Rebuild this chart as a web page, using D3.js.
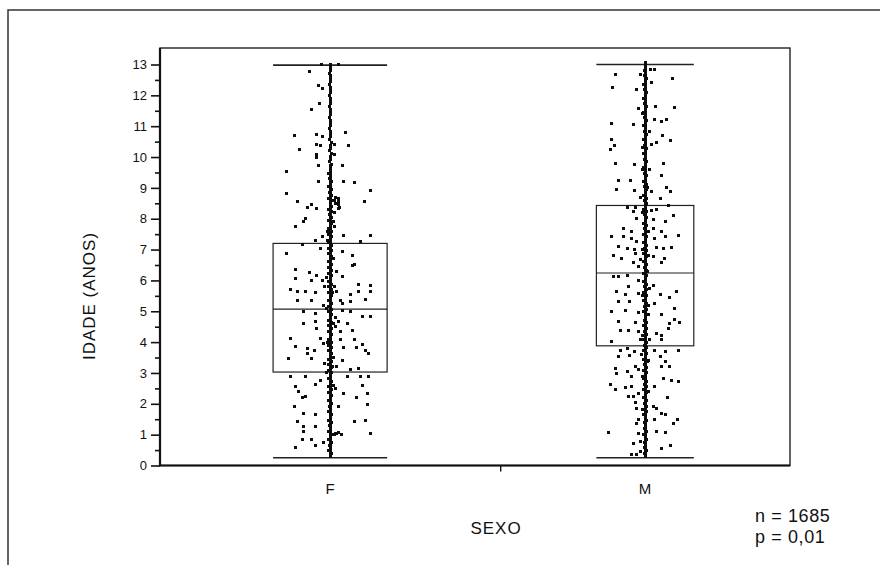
<!DOCTYPE html>
<html lang="pt">
<head>
<meta charset="UTF-8">
<script src="https://cdn.jsdelivr.net/npm/d3@7"></script>
<title>Idade por sexo</title>
<style>
  body { margin: 0; background: #fff; }
  svg { display: block; font-family: "Liberation Sans", Arial, sans-serif; }
</style>
</head>
<body>
<svg width="880" height="565"></svg>
<script>
// resumo dos grupos
const categories = ["F", "M"];
const groupN = [974, 711];
const whiskerLow = [0.25, 0.25];
const q1 = [3.03, 3.88];
const median = [5.07, 6.24];
const q3 = [7.2, 8.43];
const whiskerHigh = [12.98, 13.0];

const yTicks = [0, 1, 2, 3, 4, 5, 6, 7, 8, 9, 10, 11, 12, 13];
const yMinorTicks = [0.5, 1.5, 2.5, 3.5, 4.5, 5.5, 6.5, 7.5, 8.5, 9.5, 10.5, 11.5, 12.5];

// pontos: [idade, deslocamento horizontal (fracao da meia largura da caixa)]
const fPoints = [
  [13.0,-.15],[13.0,.15],[12.77,-.37],[12.33,-.2],[12.23,-.14],[11.74,-.19],[11.55,-.32],[10.69,-.62],[10.73,-.24],
  [10.66,-.14],[10.8,.27],[10.41,-.24],[10.37,-.17],[10.41,.08],[10.39,.32],[10.23,-.53],[10.09,-.24],[9.98,-.24],
  [10.09,.08],[9.74,-.2],[9.71,.21],[9.52,-.77],[9.22,-.2],[9.22,.24],[9.18,.42],[8.93,.7],[8.82,-.77],[8.55,-.57],
  [8.66,.15],[8.55,.61],[8.36,-.4],[8.34,-.24],[8.34,.14],[8.45,-.33],[8.01,-.44],[7.74,-.61],[7.9,-.46],[7.74,.08],
  [7.47,.24],[7.45,.7],[7.42,-.14],[7.31,-.26],[7.25,.53],[7.15,-.49],[6.88,-.77],[7.04,-.17],[6.82,.39],[6.93,.21],
  [6.52,.42],[6.5,.39],[6.14,.21],[6.34,-.61],[6.25,-.37],[6.17,-.23],[6.07,-.61],[6.01,-.32],[5.99,-.14],[5.88,.5],
  [5.85,.7],[5.69,-.7],[5.63,-.58],[5.63,-.44],[5.6,-.26],[5.63,.12],[5.53,.35],[5.63,.5],[5.63,.7],[5.36,-.58],
  [5.36,-.32],[5.36,.18],[5.31,.35],[5.39,.62],[5.26,.21],[4.99,-.46],[4.93,-.26],[5.04,.21],[4.99,.36],[4.82,.56],
  [4.84,.71],[4.66,-.26],[4.66,.15],[4.61,.3],[4.61,-.46],[4.45,-.23],[4.34,.18],[4.39,.39],[4.12,-.7],[4.12,-.17],
  [4.07,.18],[4.07,.42],[3.85,-.61],[3.8,-.4],[3.74,-.28],[3.83,.24],[3.83,.47],[3.91,.56],[3.74,.62],[3.64,.68],
  [3.64,-.4],[3.47,-.73],[3.47,-.32],[3.42,.21],[3.22,.12],[3.12,.36],[3.15,.5],[2.9,-.7],[2.88,-.44],[2.88,.3],
  [2.9,.53],[2.9,.68],[2.75,-.17],[2.55,-.61],[2.61,-.26],[2.58,.56],[2.39,-.55],[2.23,-.44],[2.34,.24],[2.34,.65],
  [2.21,.47],[2.2,-.49],[1.91,-.63],[1.91,.15],[1.99,.65],[1.69,-.46],[1.64,-.26],[1.42,-.58],[1.42,.42],[1.45,.62],
  [1.26,-.46],[1.26,-.26],[1.1,-.46],[1.04,.12],[1.04,.71],[0.83,-.49],[0.83,-.32],[0.66,-.26],[0.59,-.61],[0.75,-.11],
  [5.8,-.1],[5.2,-.12],[4.5,.1],[3.95,-.12],[3.3,-.1],[6.3,.12],[4.8,.1],[2.5,.1],[1.02,.2],[1.08,.15],
  [8.45,.15],[8.35,.17],[8.55,.15]
];

const fCore = [
  [0.30,0],[0.39,.02],[0.48,-.02],[0.57,.01],[0.66,-.01],[0.75,.02],[0.84,-.02],[0.93,0],[1.02,.03],[1.11,-.02],
  [1.2,.01],[1.29,-.01],[1.38,.02],[1.47,-.02],[1.56,0],[1.65,.02],[1.74,-.02],[1.83,.01],[1.92,-.01],[2.01,.02],
  [2.1,-.03],[2.19,0],[2.28,.03],[2.37,-.02],[2.46,.02],[2.55,-.03],[2.64,.01],[2.73,.03],[2.82,-.03],[2.91,0],
  [3.0,.03],[3.09,-.03],[3.18,.02],[3.27,-.02],[3.36,.03],[3.45,-.03],[3.54,0],[3.63,.03],[3.72,-.03],[3.81,.02],
  [3.9,-.02],[3.99,.03],[4.08,-.03],[4.17,0],[4.26,.03],[4.35,-.03],[4.44,.02],[4.53,-.02],[4.62,.03],[4.71,-.03],
  [4.8,0],[4.89,.03],[4.98,-.03],[5.07,.02],[5.16,-.02],[5.25,.03],[5.34,-.03],[5.43,0],[5.52,.03],[5.61,-.03],
  [5.7,.02],[5.79,-.02],[5.88,.03],[5.97,-.03],[6.06,0],[6.15,.03],[6.24,-.03],[6.33,.02],[6.42,-.02],[6.51,.03],
  [6.6,-.03],[6.69,0],[6.78,.02],[6.87,-.02],[6.96,.03],[7.05,-.02],[7.14,.02],[7.23,-.03],[7.32,0],[7.41,.03],
  [7.5,-.02],[7.59,.02],[7.68,-.03],[7.77,.01],[7.86,.03],[7.95,-.02],[8.04,.02],[8.13,-.01],[8.22,.03],[8.31,-.02],
  [8.4,.03],[8.49,0],[8.58,.04],[8.67,-.02],[8.76,.02],[8.85,-.01],[8.94,.02],[9.03,-.02],[9.12,0],[9.21,.02],
  [9.3,-.01],[9.39,.01],[9.48,-.02],[9.57,.01],[9.66,0],[9.75,.02],[9.84,-.01],[9.93,.01],[10.02,0],[10.11,.02],
  [10.2,-.01],[10.29,.01],[10.38,0],[10.47,.02],[10.56,-.01],[10.65,.01],[10.74,0],[10.83,.01],[10.92,-.01],[11.01,.01],
  [11.1,0],[11.19,.01],[11.28,-.01],[11.37,.01],[11.46,0],[11.55,.01],[11.64,-.01],[11.73,.01],[11.82,0],[11.91,.01],
  [12.0,-.01],[12.09,.01],[12.18,0],[12.27,.01],[12.36,-.01],[12.45,.01],[12.54,0],[12.63,.01],[12.72,-.01],[12.81,.01],
  [12.9,0],[12.99,.01],
  [2.6,.06],[3.0,-.06],[3.5,.06],[4.0,-.05],[4.6,.06],[5.1,-.06],[5.6,.05],[6.1,-.06],[6.7,.06],[7.3,-.05],
  [7.9,.06],[8.6,.07],[8.7,.1],[8.2,.08],[5.8,.07],[3.2,.05],[1.0,.08],[1.05,.1],[8.5,.09],[7.6,-.05]
];

// idades dos pontos sobrepostos exatamente no centro da coluna
const fCenter = [
  0.35,0.44,0.53,0.62,0.71,0.8,0.89,0.98,1.07,1.16,1.25,1.34,1.43,1.52,1.61,1.7,1.79,1.88,1.97,2.06,
  2.15,2.24,2.33,2.42,2.51,2.6,2.69,2.78,2.87,2.96,3.05,3.14,3.23,3.32,3.41,3.5,3.59,3.68,3.77,3.86,
  3.95,4.04,4.13,4.22,4.31,4.4,4.49,4.58,4.67,4.76,4.85,4.94,5.03,5.12,5.21,5.3,5.39,5.48,5.57,5.66,
  5.75,5.84,5.93,6.02,6.11,6.2,6.29,6.38,6.47,6.56,6.65,6.74,6.83,6.92,7.01,7.1,7.19,7.28,7.37,7.46,
  7.55,7.64,7.73,7.82,7.91,8.0,8.09,8.18,8.27,8.36,8.45,8.54,8.63,8.72,8.81,8.9,8.99,9.08,9.17,9.26,
  9.35,9.44,9.53,9.62,9.71
];

const mPoints = [
  [12.85,.12],[12.85,.19],[12.66,-.6],[12.53,.56],[12.68,-.1],[12.25,-.67],[12.2,-.17],[12.42,.14],[11.63,.22],[11.6,.6],
  [11.58,-.14],[11.09,-.69],[11.04,-.24],[11.23,.2],[11.14,.33],[11.23,.44],[10.82,.1],[10.69,.36],[10.58,-.69],[10.55,.53],
  [10.37,-.63],[10.23,-.71],[10.48,.24],[10.4,.14],[9.8,-.61],[9.76,-.22],[9.8,.37],[9.58,.1],[9.25,-.54],[9.25,-.29],
  [9.39,.34],[8.96,-.58],[8.9,-.22],[8.88,.14],[9.0,.44],[8.87,.53],[8.66,.31],[8.68,-.1],[8.36,-.37],[8.37,-.2],
  [8.28,.14],[8.3,.24],[8.44,.48],[8.23,-.24],[8.01,-.17],[7.96,.17],[7.9,.41],[8.12,.58],[7.69,-.44],[7.58,-.27],
  [7.69,.17],[7.6,.33],[7.42,-.68],[7.42,-.44],[7.42,.41],[7.47,.68],[7.36,-.27],[7.25,-.17],[7.36,.2],[7.09,-.54],
  [7.04,-.37],[7.0,-.22],[7.06,.24],[7.03,.37],[7.06,.54],[6.82,-.65],[6.88,-.2],[6.78,.17],[6.72,.39],[6.72,-.48],
  [6.68,-.1],[6.57,-.24],[6.57,.34],[6.44,-.14],[6.12,-.65],[6.12,-.54],[6.15,-.37],[5.99,-.14],[5.85,.17],[5.74,.1],
  [5.8,-.34],[5.63,-.58],[5.53,-.41],[5.58,-.14],[5.53,.31],[5.45,.51],[5.63,.65],[5.31,-.54],[5.31,-.31],[5.26,.2],
  [4.99,-.68],[5.04,-.41],[4.97,-.14],[5.1,.61],[4.88,.34],[4.66,-.54],[4.65,-.2],[4.61,.51],[4.65,.71],[4.74,.61],
  [4.39,-.34],[4.39,-.51],[4.34,-.14],[4.45,.48],[4.28,.24],[4.23,.34],[4.01,-.68],[4.07,-.1],[4.07,.1],[4.07,.34],
  [3.74,-.51],[3.8,-.37],[3.69,-.22],[3.74,.2],[3.69,.41],[3.72,.68],[3.53,-.54],[3.58,-.31],[3.53,.31],[3.36,.41],
  [3.22,.51],[3.22,.34],[3.15,-.61],[3.2,-.2],[2.99,-.58],[3.04,-.37],[3.1,-.14],[2.88,-.27],[2.83,.37],[2.77,.54],
  [2.72,.68],[2.61,-.71],[2.45,-.61],[2.53,-.41],[2.55,-.27],[2.55,.2],[2.25,-.34],[2.25,-.24],[2.35,-.14],[2.21,.46],
  [1.91,.17],[1.86,.24],[2.04,-.2],[1.84,-.17],[1.67,.33],[1.64,.41],[1.5,-.14],[1.48,.2],[1.5,.67],[1.37,.58],
  [1.06,-.75],[1.37,-.17],[1.1,.24],[1.06,.41],[1.04,-.14],[0.72,-.24],[0.77,-.1],[0.56,.34],[0.64,.53],[0.37,-.27],
  [0.37,-.17],[0.45,-.1]
];

const mCore = [
  [0.3,0],[0.39,-.02],[0.48,.02],[0.57,-.01],[0.66,.01],[0.75,-.02],[0.84,.02],[0.93,0],[1.02,-.03],[1.11,.02],
  [1.2,-.01],[1.29,.01],[1.38,-.02],[1.47,.02],[1.56,0],[1.65,-.03],[1.74,.02],[1.83,-.01],[1.92,.03],[2.01,-.02],
  [2.1,.02],[2.19,-.03],[2.28,0],[2.37,.03],[2.46,-.03],[2.55,.02],[2.64,-.02],[2.73,.03],[2.82,-.03],[2.91,0],
  [3.0,.03],[3.09,-.03],[3.18,.02],[3.27,-.02],[3.36,.04],[3.45,-.03],[3.54,0],[3.63,.03],[3.72,-.03],[3.81,.02],
  [3.9,-.02],[3.99,.03],[4.08,-.03],[4.17,0],[4.26,.03],[4.35,-.02],[4.44,.02],[4.53,-.03],[4.62,.03],[4.71,-.02],
  [4.8,0],[4.89,.03],[4.98,-.03],[5.07,.02],[5.16,-.02],[5.25,.03],[5.34,-.03],[5.43,0],[5.52,.03],[5.61,-.03],
  [5.7,.02],[5.79,-.02],[5.88,.03],[5.97,-.03],[6.06,0],[6.15,.03],[6.24,-.03],[6.33,.02],[6.42,-.02],[6.51,.03],
  [6.6,-.03],[6.69,0],[6.78,.03],[6.87,-.03],[6.96,.02],[7.05,-.02],[7.14,.03],[7.23,-.03],[7.32,0],[7.41,.03],
  [7.5,-.03],[7.59,.02],[7.68,-.02],[7.77,.03],[7.86,-.03],[7.95,0],[8.04,.02],[8.13,-.02],[8.22,.03],[8.31,-.03],
  [8.4,0],[8.49,.02],[8.58,-.02],[8.67,.03],[8.76,-.03],[8.85,0],[8.94,.02],[9.03,-.02],[9.12,.03],[9.21,-.03],
  [9.3,0],[9.39,.02],[9.48,-.02],[9.57,.01],[9.66,-.03],[9.75,0],[9.84,.02],[9.93,-.02],[10.02,.01],[10.11,-.03],
  [10.2,0],[10.29,.02],[10.38,-.02],[10.47,.01],[10.56,-.03],[10.65,0],[10.74,.02],[10.83,-.02],[10.92,.01],[11.01,-.03],
  [11.1,0],[11.19,.02],[11.28,-.02],[11.37,.01],[11.46,-.03],[11.55,0],[11.64,.02],[11.73,-.02],[11.82,.01],[11.91,-.03],
  [12.0,0],[12.09,.02],[12.18,-.02],[12.27,.01],[12.36,-.03],[12.45,0],[12.54,.02],[12.63,-.02],[12.72,.01],[12.81,-.01],
  [12.9,0],[12.99,.01],[13.06,0],
  [2.4,.06],[2.9,-.06],[3.4,.06],[4.2,-.06],[4.9,.06],[5.5,-.06],[6.3,.05],[7.0,-.06],[7.6,.06],[8.2,-.06],
  [9.0,.05],[9.6,-.06],[3.6,-.07],[5.2,.07],[10.3,-.06],[11.4,-.05],[6.8,.06],[1.8,-.05]
];

const mCenter = [
  0.35,0.44,0.53,0.62,0.71,0.8,0.89,0.98,1.07,1.16,1.25,1.34,1.43,1.52,1.61,1.7,1.79,1.88,1.97,2.06,
  2.15,2.24,2.33,2.42,2.51,2.6,2.69,2.78,2.87,2.96,3.05,3.14,3.23,3.32,3.41,3.5,3.59,3.68,3.77,3.86,
  3.95,4.04,4.13,4.22,4.31,4.4,4.49,4.58,4.67,4.76,4.85,4.94,5.03,5.12,5.21,5.3,5.39,5.48,5.57,5.66,
  5.75,5.84,5.93,6.02,6.11,6.2,6.29,6.38,6.47,6.56,6.65,6.74,6.83,6.92,7.01,7.1,7.19,7.28,7.37,7.46,
  7.55,7.64,7.73,7.82,7.91,8.0,8.09,8.18,8.27,8.36,8.45,8.54,8.63,8.72,8.81,8.9,8.99,9.08,9.17,9.26,
  9.35,9.44,9.53,9.62,9.71,9.8,9.89,9.98,10.07,10.16,10.25,10.34,10.43,10.52,10.61,10.7,10.79,10.88,10.97,11.06,
  11.15,11.24,11.33,11.42,11.51,11.6,11.69,11.78,11.87,11.96,12.05,12.14,12.23,12.32,12.41,12.5,12.59,12.68,12.77,12.86,
  12.95
];

const svg = d3.select("svg");

// moldura externa (cortada na digitalizacao: so aparecem topo e esquerda)
svg.append("rect")
    .attr("x", 8).attr("y", 10)
    .attr("width", 900).attr("height", 600)
    .attr("fill", "none").attr("stroke", "#333").attr("stroke-width", 1.5);

// F = 1, M = 2
const xScale = d3.scaleLinear().domain([0.46, 2.46]).range([160, 790]);
const yScale = d3.scaleLinear().domain([0, 13]).range([465.5, 64.5]);
// largura da caixa proporcional a raiz de n
const halfWidth = d3.scaleSqrt().domain([0, d3.max(groupN)]).range([0, 0.181]);

const plot = { left: 160, right: 790, top: 48, bottom: 465.5 };

// caixas
categories.forEach((c, i) => {
    const cx = i + 1;
    const hw = halfWidth(groupN[i]);
    const g = svg.append("g").attr("fill", "none").attr("stroke", "#222");
    g.append("rect")
        .attr("x", xScale(cx - hw))
        .attr("y", yScale(q3[i]))
        .attr("width", xScale(cx + hw) - xScale(cx - hw))
        .attr("height", yScale(q1[i]) - yScale(q3[i]))
        .attr("stroke-width", 1.2);
    g.append("line")
        .attr("x1", xScale(cx - hw)).attr("x2", xScale(cx + hw))
        .attr("y1", yScale(median[i])).attr("y2", yScale(median[i]))
        .attr("stroke-width", 1.2);
    [whiskerLow[i], whiskerHigh[i]].forEach(v => {
        g.append("line")
            .attr("x1", xScale(cx - hw)).attr("x2", xScale(cx + hw))
            .attr("y1", yScale(v)).attr("y2", yScale(v))
            .attr("stroke-width", 1.6);
    });
});

// pontos
const allPoints = [];
[[fPoints, fCore, fCenter], [mPoints, mCore, mCenter]].forEach((sets, i) => {
    const hw = halfWidth(groupN[i]);
    sets[0].concat(sets[1]).forEach(p => allPoints.push({ cat: i + 1, age: p[0], jit: p[1], hw: hw }));
    sets[2].forEach(a => allPoints.push({ cat: i + 1, age: a, jit: 0, hw: hw }));
});

svg.append("g").attr("shape-rendering", "crispEdges")
    .selectAll("rect")
    .data(allPoints)
    .enter()
    .append("rect")
    .attr("x", d => xScale(d.cat + d.jit * d.hw) - 1.5)
    .attr("y", d => yScale(d.age) - 1.5)
    .attr("width", 3)
    .attr("height", 3)
    .attr("fill", "#0d0d0d");

// eixo y
const yAxisG = svg.append("g").attr("transform", `translate(${plot.left},0)`);
d3.axisLeft(yScale).tickValues(yTicks).tickSize(9).tickPadding(4)(yAxisG);
const yMinorG = svg.append("g").attr("transform", `translate(${plot.left},0)`);
d3.axisLeft(yScale).tickValues(yMinorTicks).tickSize(5).tickFormat("")(yMinorG);
[yAxisG, yMinorG].forEach(g => {
    g.select(".domain").remove();
    g.selectAll("line").attr("stroke", "#111").attr("stroke-width", 1.6);
});
yAxisG.selectAll("text")
    .attr("fill", "#111")
    .style("font-size", "13px")
    .style("font-family", "'Liberation Sans', Arial, sans-serif");

// eixo x: so um traco entre as categorias
const xAxisG = svg.append("g").attr("transform", `translate(0,${plot.bottom})`);
d3.axisBottom(xScale).tickValues([1.54]).tickSize(6).tickFormat("")(xAxisG);
xAxisG.select(".domain").remove();
xAxisG.selectAll("line").attr("stroke", "#111").attr("stroke-width", 1.4);

svg.append("g").selectAll("text")
    .data(categories)
    .enter()
    .append("text")
    .attr("x", (d, i) => xScale(i + 1))
    .attr("y", 494)
    .attr("text-anchor", "middle")
    .attr("fill", "#111")
    .style("font-size", "15px")
    .text(d => d);

// area do grafico
svg.append("rect")
    .attr("x", plot.left).attr("y", plot.top)
    .attr("width", plot.right - plot.left).attr("height", plot.bottom - plot.top)
    .attr("fill", "none").attr("stroke", "#222").attr("stroke-width", 1.4);
svg.append("path")
    .attr("d", `M${plot.left},${plot.top}V${plot.bottom}H${plot.right}`)
    .attr("fill", "none").attr("stroke", "#111").attr("stroke-width", 2.2);

// titulos
svg.append("text")
    .attr("transform", "translate(95,296) rotate(-90)")
    .attr("text-anchor", "middle")
    .attr("fill", "#111")
    .style("font-size", "17px")
    .style("letter-spacing", "1px")
    .text("IDADE (ANOS)");

svg.append("text")
    .attr("x", 496).attr("y", 534)
    .attr("text-anchor", "middle")
    .attr("fill", "#111")
    .style("font-size", "17px")
    .style("letter-spacing", "1px")
    .text("SEXO");

svg.append("text")
    .attr("x", 755).attr("y", 522)
    .attr("fill", "#111")
    .style("font-size", "18px")
    .style("letter-spacing", "0.6px")
    .text("n = 1685");
svg.append("text")
    .attr("x", 755).attr("y", 543)
    .attr("fill", "#111")
    .style("font-size", "18px")
    .style("letter-spacing", "0.6px")
    .text("p = 0,01");
</script>
</body>
</html>
